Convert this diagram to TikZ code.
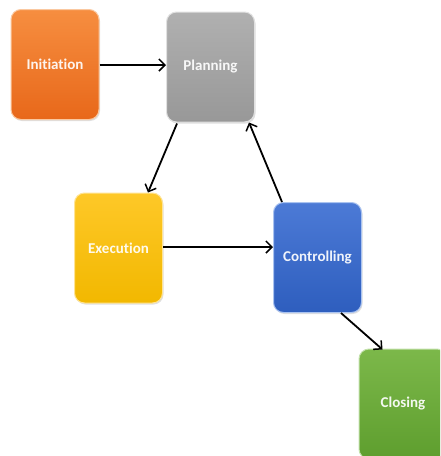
\documentclass[tikz,border=0pt]{standalone}
\usepackage{fontspec}
\setmainfont{Carlito}[Ligatures={NoCommon}]
\usetikzlibrary{arrows.meta,calc,shadows}
\tikzset{
  phase/.style={rounded corners=10pt, minimum width=88pt, minimum height=110pt,
    inner sep=0pt, text=white, text opacity=0.92, font=\bfseries\fontsize{15}{17}\selectfont,
    line width=1pt, drop shadow={shadow xshift=1pt, shadow yshift=-1.5pt, opacity=0.25}},
  conn/.style={line width=1.8pt, -{Straight Barb[length=6pt,width=12pt,line width=1.5pt]}},
}
\begin{document}
\begin{tikzpicture}[x=1pt,y=-1pt]
\clip (0,0) rectangle (440,456);
\useasboundingbox (0,0) rectangle (440,456);
\fill[white] (0,0) rectangle (440,456);
\node[phase, top color={rgb,255:red,246;green,142;blue,64}, bottom color={rgb,255:red,232;green,104;blue,26}, draw={rgb,255:red,250;green,200;blue,160}] (ini) at (55,64.5) {Initiation};
\node[phase, top color={rgb,255:red,176;green,176;blue,176}, bottom color={rgb,255:red,152;green,152;blue,152}, draw={rgb,255:red,225;green,225;blue,225}] (pla) at (210.5,67) {Planning};
\node[phase, top color={rgb,255:red,254;green,200;blue,40}, bottom color={rgb,255:red,242;green,184;blue,0}, draw={rgb,255:red,255;green,228;blue,150}] (exe) at (118.5,248) {Execution};
\node[phase, top color={rgb,255:red,76;green,122;blue,214}, bottom color={rgb,255:red,46;green,94;blue,190}, draw={rgb,255:red,170;green,195;blue,240}] (ctl) at (317.5,257.5) {Controlling};
\node[phase, top color={rgb,255:red,124;green,184;blue,74}, bottom color={rgb,255:red,94;green,158;blue,46}, draw={rgb,255:red,195;green,225;blue,170}] (clo) at (403,404) {Closing};
\draw[conn] (ini.east |- 0,65) -- (pla.west |- 0,65);
\draw[conn] ($(pla.south west)+(11,1)$) -- ($(exe.north west)+(74,0)$);
\draw[conn] ($(ctl.north west)+(9,0)$) -- ($(pla.south east)+(-6,0)$);
\draw[conn] (exe.east |- 0,247) -- (ctl.west |- 0,247);
\draw[conn] ($(ctl.south west)+(68,0)$) -- ($(clo.north west)+(24,1)$);
\end{tikzpicture}
\end{document}
